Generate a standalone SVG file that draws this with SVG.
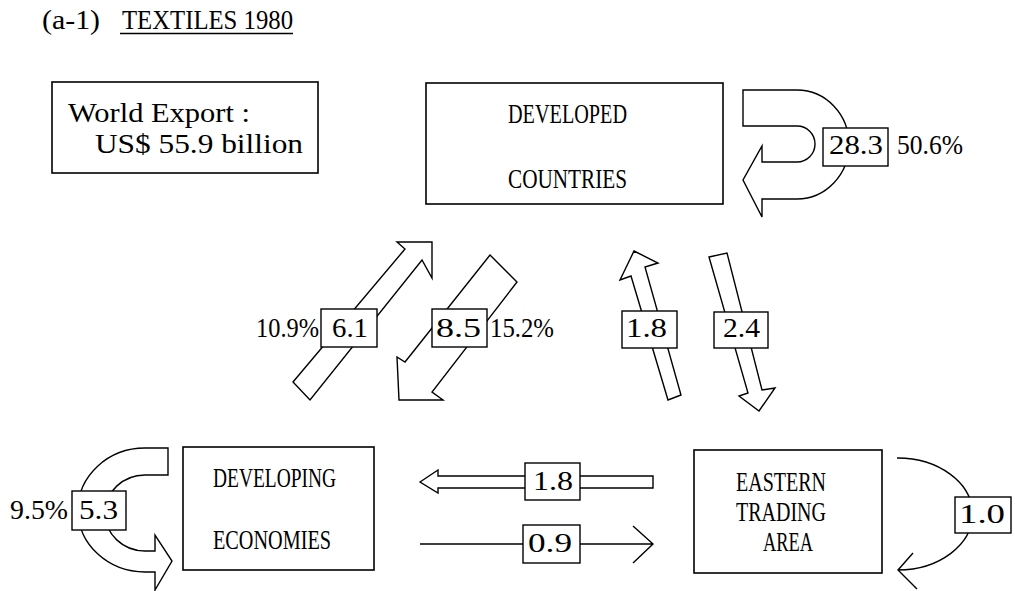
<svg xmlns="http://www.w3.org/2000/svg" width="1015" height="591" viewBox="0 0 1015 591">
<style>
  text { font-family: "Liberation Serif", "DejaVu Serif", serif; font-size: 28px; fill: #000; }
  .box { fill: #fff; stroke: #000; stroke-width: 1.6; }
  .arrow { fill: #fff; stroke: #000; stroke-width: 1.4; stroke-linejoin: miter; }
  .line { fill: none; stroke: #000; stroke-width: 1.4; }
  .lbl { fill: #fff; stroke: #000; stroke-width: 1.4; }
</style>
<rect width="1015" height="591" fill="#fff"/>

<g id="title">
  <text x="42" y="29" textLength="58" lengthAdjust="spacingAndGlyphs">(a-1)</text>
  <text x="122" y="29" textLength="171" lengthAdjust="spacingAndGlyphs">TEXTILES 1980</text>
  <line x1="120" y1="33.5" x2="293" y2="33.5" stroke="#000" stroke-width="1.5"/>
</g>

<g id="world-export">
  <rect class="box" x="52" y="82" width="266" height="91"/>
  <text x="68" y="122" textLength="182" lengthAdjust="spacingAndGlyphs">World Export :</text>
  <text x="95" y="153" textLength="208" lengthAdjust="spacingAndGlyphs">US$ 55.9 billion</text>
</g>

<g id="developed">
  <rect class="box" x="426" y="83" width="297" height="121"/>
  <text x="508" y="123" textLength="119" lengthAdjust="spacingAndGlyphs">DEVELOPED</text>
  <text x="508" y="188" textLength="119" lengthAdjust="spacingAndGlyphs">COUNTRIES</text>
</g>

<g id="developing">
  <rect class="box" x="183" y="447" width="191" height="123"/>
  <text x="213" y="487" textLength="123" lengthAdjust="spacingAndGlyphs">DEVELOPING</text>
  <text x="213" y="549" textLength="118" lengthAdjust="spacingAndGlyphs">ECONOMIES</text>
</g>

<g id="eastern">
  <rect class="box" x="694" y="450" width="188" height="123"/>
  <text x="736" y="491" textLength="90" lengthAdjust="spacingAndGlyphs">EASTERN</text>
  <text x="736" y="521" textLength="90" lengthAdjust="spacingAndGlyphs">TRADING</text>
  <text x="763" y="551" textLength="50" lengthAdjust="spacingAndGlyphs">AREA</text>
</g>

<g id="connectors">
  <!-- Developed self loop -->
  <path class="arrow" d="M743,90 L797,90 A52,54.5 0 0 1 797,199 L762,199 L762,217 L743,180 L762,146 L762,162 L797,162 A18,18 0 0 0 797,126 L743,126 Z"/>
  <rect class="lbl" x="823" y="128" width="65" height="38"/>
  <text x="829" y="154" textLength="54" lengthAdjust="spacingAndGlyphs">28.3</text>
  <text x="897" y="154" textLength="66" lengthAdjust="spacingAndGlyphs">50.6%</text>

  <!-- Developing -> Developed (6.1) -->
  <path class="arrow" d="M293,382 L405,249 L397,242 L432,242 L432,278 L422,260 L310,400 Z"/>
  <rect class="lbl" x="321" y="309" width="56" height="38"/>
  <text x="256" y="337" textLength="63" lengthAdjust="spacingAndGlyphs">10.9%</text>
  <text x="332" y="337" textLength="36" lengthAdjust="spacingAndGlyphs">6.1</text>

  <!-- Developed -> Developing (8.5) -->
  <path class="arrow" d="M490,255 L517,282 L432,392 L443,400 L399,400 L397,357 L405,362 Z"/>
  <rect class="lbl" x="432" y="309" width="55" height="38"/>
  <text x="436" y="337" textLength="45" lengthAdjust="spacingAndGlyphs">8.5</text>
  <text x="490" y="337" textLength="64" lengthAdjust="spacingAndGlyphs">15.2%</text>

  <!-- Eastern -> Developed (1.8) -->
  <path class="arrow" d="M634,251 L658,263 L645,267 L681,395 L668,400 L631,276 L620,280 Z"/>
  <rect class="lbl" x="622" y="311" width="55" height="37"/>
  <text x="626" y="337" textLength="41" lengthAdjust="spacingAndGlyphs">1.8</text>

  <!-- Developed -> Eastern (2.4) -->
  <path class="arrow" d="M709,257 L727,253 L762,390 L775,388 L759,411 L739,396 L748,393 Z"/>
  <rect class="lbl" x="714" y="312" width="54" height="36"/>
  <text x="723" y="337" textLength="37" lengthAdjust="spacingAndGlyphs">2.4</text>

  <!-- Developing self loop (5.3) -->
  <path class="arrow" d="M168,448 L145,448 A67,62 0 0 0 145,572 L155,572 L155,590 L172,561 L155,535 L155,551 L145,551 A40,38 0 0 1 145,475 L168,475 Z"/>
  <rect class="lbl" x="72" y="491" width="54" height="39"/>
  <text x="10" y="519" textLength="58" lengthAdjust="spacingAndGlyphs">9.5%</text>
  <text x="79" y="519" textLength="39" lengthAdjust="spacingAndGlyphs">5.3</text>

  <!-- Eastern -> Developing (1.8) -->
  <path class="arrow" d="M420,482 L438,470 L438,476 L653,476 L653,488 L438,488 L438,493 Z"/>
  <rect class="lbl" x="525" y="463" width="55" height="37"/>
  <text x="533" y="490" textLength="40" lengthAdjust="spacingAndGlyphs">1.8</text>

  <!-- Developing -> Eastern (0.9) -->
  <path class="line" d="M420,544 L653,544 M633,526 L653,544 L633,563"/>
  <rect class="lbl" x="523" y="525" width="57" height="38"/>
  <text x="528" y="552" textLength="44" lengthAdjust="spacingAndGlyphs">0.9</text>

  <!-- Eastern self loop (1.0) -->
  <path class="line" d="M897,458 A75,56 0 0 1 898,570 M913,553 L898,570 L917,589"/>
  <rect class="lbl" x="955" y="497" width="56" height="36"/>
  <text x="959" y="523" textLength="46" lengthAdjust="spacingAndGlyphs">1.0</text>
</g>
</svg>
